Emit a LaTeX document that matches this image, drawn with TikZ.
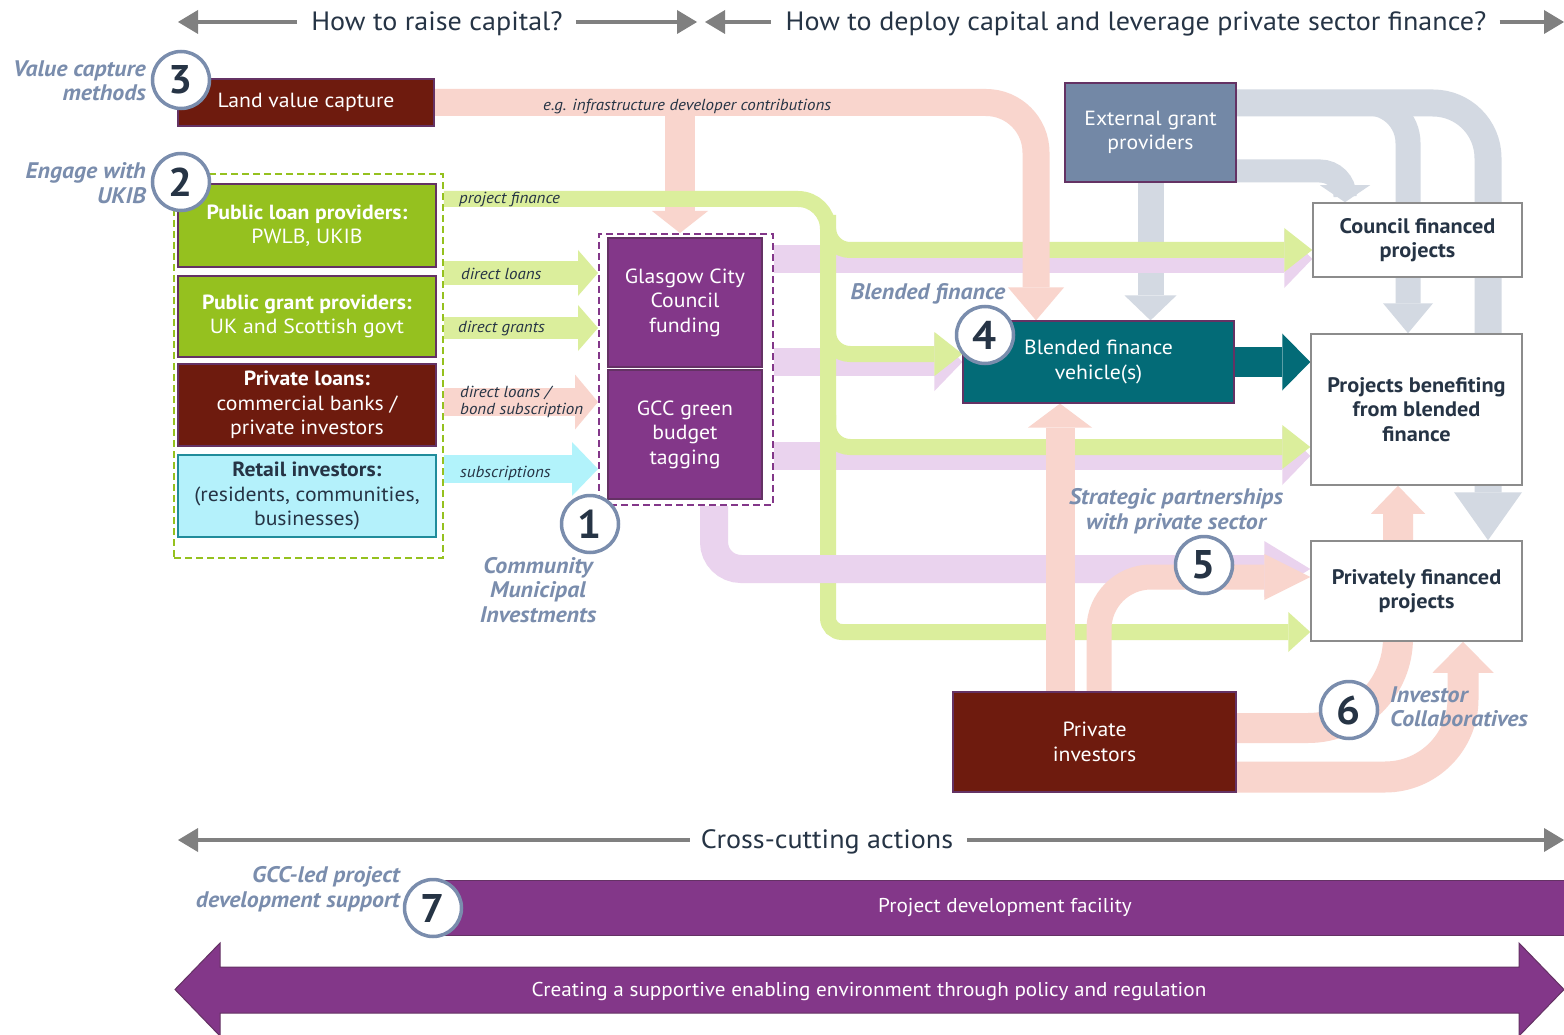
\documentclass[tikz,border=0pt]{standalone}
\usepackage{fontspec}
\setmainfont{PT Sans}[FakeStretch=1.06]
\usetikzlibrary{arrows.meta}
\pgfdeclarelayer{bg}
\pgfdeclarelayer{flows}
\pgfsetlayers{bg,flows,main}
\definecolor{maroonb}{RGB}{110,27,14}
\definecolor{greenb}{RGB}{149,193,31}
\definecolor{cyanb}{RGB}{180,241,251}
\definecolor{cyanedge}{RGB}{32,140,155}
\definecolor{purpleb}{RGB}{131,55,137}
\definecolor{slateb}{RGB}{115,136,166}
\definecolor{tealb}{RGB}{3,107,119}
\definecolor{pinkf}{RGB}{249,213,205}
\definecolor{greenf}{RGB}{219,238,156}
\definecolor{lavf}{RGB}{234,211,238}
\definecolor{grayf}{RGB}{211,217,226}
\definecolor{cyanf}{RGB}{178,243,251}
\definecolor{labblue}{RGB}{122,141,173}
\definecolor{darkt}{RGB}{38,52,69}
\definecolor{hgray}{RGB}{128,128,128}
\definecolor{boxedge}{RGB}{100,50,100}
\definecolor{wedge}{RGB}{140,140,140}
\newcommand{\fz}[2]{\fontsize{#1}{#2}\selectfont}
\tikzset{
  flw/.style n args={4}{draw=#1, line width=#2, -{Triangle[length=#3, width=#4, line width=0pt]}},
  hdr/.style={draw=hgray, line width=4.5pt, -{Triangle[length=20pt, width=24pt, line width=0pt]}},
  mbox/.style={draw=boxedge, line width=1.2pt, text=white, align=center, inner sep=2pt, font=\fz{20.5}{24.5}},
  wbox/.style={draw=wedge, line width=1.5pt, fill=white, text=darkt, align=center, inner sep=2pt, font=\bfseries\fz{21}{24.5}},
  numc/.style={circle, draw=labblue, line width=3.5pt, fill=white, minimum size=57pt, inner sep=0pt, text=darkt, font=\bfseries\fz{40}{40}},
  lab/.style={text=labblue, font=\bfseries\itshape\fz{22.5}{24.5}, inner sep=0pt},
  small/.style={text=darkt, font=\itshape\fz{16}{17}, inner sep=0pt, anchor=west, align=left},
  head/.style={text=darkt, font=\fz{26.5}{30}, inner sep=0pt},
}
\begin{document}
\begin{tikzpicture}[x=1pt,y=-1pt]
\useasboundingbox (0,0) rectangle (1564,1035);
\clip (0,0) rectangle (1564,1035);
\begin{pgfonlayer}{bg}
\fill[white] (0,0) rectangle (1564,1035);
\end{pgfonlayer}

% ---------- header ----------
\node[head] (h1) at (437,24) {How to raise capital?};
\node[head] (h2) at (1136,24) {How to deploy capital and leverage private sector finance?};
\coordinate (hA) at (178,22);
\coordinate (hB) at (697,22);
\coordinate (hC) at (705,22);
\coordinate (hD) at (1564,22);
\draw[hdr] ([xshift=-14pt]h1.west |- hA) -- (hA);
\draw[hdr] ([xshift=13pt]h1.east |- hA) -- (hB);
\draw[hdr] ([xshift=-15pt]h2.west |- hA) -- (hC);
\draw[hdr] ([xshift=13pt]h2.east |- hA) -- (hD);

% ---------- left boxes ----------
\node[mbox, fill=maroonb, minimum width=256pt, minimum height=47pt] (lvc) at (306,102.5) {Land value capture};
\node[draw=greenb, dash pattern=on 7pt off 4pt, line width=1.8pt, minimum width=269pt, minimum height=384pt, inner sep=0pt] (grp2) at (308.5,366) {};
\node[mbox, fill=greenb, minimum width=258pt, minimum height=83pt] (plp) at (307,225.5) {\textbf{Public loan providers:}\\PWLB, UKIB};
\node[mbox, fill=greenb, minimum width=258pt, minimum height=81pt] (pgp) at (307,316.5) {\textbf{Public grant providers:}\\UK and Scottish govt};
\node[mbox, fill=maroonb, minimum width=258pt, minimum height=82pt] (prl) at (307,405) {\textbf{Private loans:}\\commercial banks /\\private investors};
\node[mbox, fill=cyanb, draw=cyanedge, text=darkt, minimum width=258pt, minimum height=82pt] (ri) at (307,496) {\textbf{Retail investors:}\\(residents, communities,\\businesses)};

% ---------- GCC ----------
\node[draw=purpleb, dash pattern=on 7pt off 4pt, line width=2pt, minimum width=174pt, minimum height=271pt, inner sep=0pt] (gccgrp) at (686,369.5) {};
\node[mbox, fill=purpleb, minimum width=154pt, minimum height=129pt] (gcc1) at (685,302.5) {Glasgow City\\Council\\funding};
\node[mbox, fill=purpleb, minimum width=154pt, minimum height=129pt] (gcc2) at (685,434.5) {GCC green\\budget\\tagging};

% ---------- right boxes ----------
\node[mbox, fill=slateb, minimum width=171pt, minimum height=99pt] (egp) at (1150.5,132.5) {External grant\\providers};
\node[mbox, fill=tealb, minimum width=271pt, minimum height=82pt] (bfv) at (1098.5,362) {Blended finance\\vehicle(s)};
\node[wbox, minimum width=209pt, minimum height=74pt] (cfp) at (1417.5,240) {Council financed\\projects};
\node[wbox, minimum width=211pt, minimum height=151pt] (pbf) at (1416.5,409.5) {Projects benefiting\\from blended\\finance};
\node[wbox, minimum width=211pt, minimum height=100pt] (pfp) at (1416.5,591) {Privately financed\\projects};
\node[mbox, fill=maroonb, minimum width=283pt, minimum height=100pt] (pi) at (1094.5,742) {Private\\investors};

% ---------- flows ----------
\begin{pgfonlayer}{flows}
% grey
\draw[flw={grayf}{26pt}{25pt}{52pt}] (egp.south) -- (egp.south |- bfv.north);
\draw[flw={grayf}{27pt}{48pt}{68pt}, rounded corners=55pt] (egp.east |- 0,103) -| (1488,0 |- pfp.north);
\draw[flw={grayf}{25pt}{30pt}{50pt}, rounded corners=40pt] (egp.east |- 0,103) -| (1408,0 |- pbf.north);
\draw[flw={grayf}{23pt}{17pt}{50pt}, rounded corners=25pt] (egp.east |- 0,171) -| (1345,0 |- cfp.north);
% pink branch into GCC
\draw[flw={pinkf}{30pt}{22pt}{56pt}] (680,104) -- (680,0 |- gccgrp.north);
% lavender (upper three)
\draw[flw={lavf}{28pt}{28pt}{58pt}] (gccgrp.east |- 0,259) -- (cfp.west |- 0,259);
\draw[flw={lavf}{28pt}{28pt}{58pt}] (gccgrp.east |- 0,362) -- (bfv.west |- 0,362);
\draw[flw={lavf}{28pt}{28pt}{58pt}] (gccgrp.east |- 0,456) -- (pbf.west |- 0,456);
% green
\draw[greenf, line width=16pt, rounded corners=30pt] (grp2.east |- 0,199) -| (828,420);
\draw[flw={greenf}{16pt}{22pt}{40pt}, rounded corners=14pt] (828,400) |- (pfp.west |- 0,632);
\draw[flw={greenf}{16pt}{28pt}{44pt}, rounded corners=22pt] (828,215) |- (cfp.west |- 0,250);
\draw[flw={greenf}{16pt}{28pt}{44pt}, rounded corners=22pt] (828,320) |- (bfv.west |- 0,354);
\draw[flw={greenf}{16pt}{28pt}{44pt}, rounded corners=22pt] (828,415) |- (pbf.west |- 0,447);
% lavender to privately financed (over green)
\draw[flw={lavf}{28pt}{46pt}{56pt}, rounded corners=27pt] (714,0 |- gccgrp.south) |- (pfp.west |- 0,569);
% short arrows into GCC
\draw[flw={greenf}{23pt}{20pt}{46pt}] (grp2.east |- 0,273) -- (gccgrp.west |- 0,273);
\draw[flw={greenf}{22pt}{20pt}{46pt}] (grp2.east |- 0,328) -- (gccgrp.west |- 0,328);
\draw[flw={pinkf}{28pt}{23pt}{55pt}] (grp2.east |- 0,402) -- (gccgrp.west |- 0,402);
\draw[flw={cyanf}{28pt}{26pt}{54pt}] (grp2.east |- 0,469) -- (gccgrp.west |- 0,469);
% pink main
\draw[flw={pinkf}{27pt}{33pt}{56pt}, rounded corners=50pt] (lvc.east) -| (1036,0 |- bfv.north);
\draw[flw={pinkf}{29pt}{24pt}{64pt}] (1060,0 |- pi.north) -- (1060,0 |- bfv.south);
\draw[flw={pinkf}{25pt}{46pt}{46pt}, rounded corners=52pt] (1099,0 |- pi.north) |- (pfp.west |- 0,577);
\draw[flw={pinkf}{30pt}{28pt}{54pt}, rounded corners=90pt] (pi.east |- 0,728) -| (1398,0 |- pbf.south);
\draw[flw={pinkf}{31pt}{31pt}{61pt}, rounded corners=78pt] (pi.east |- 0,777) -| (1463,0 |- pfp.south);
% teal
\draw[flw={tealb}{30pt}{28pt}{57pt}] (bfv.east) -- (pbf.west |- bfv.east);
\end{pgfonlayer}

% ---------- small labels ----------
\node[small] (t0) at (543,107) {e.g. infrastructure developer contributions};
\node[small] (t1) at (459,200) {project finance};
\node[small] (t2) at (461,274) {direct loans};
\node[small] (t3) at (458,329) {direct grants};
\node[small] (t4) at (460,402) {direct loans /\\bond subscription};
\node[small] (t5) at (460,473) {subscriptions};

% ---------- blue-grey labels ----------
\node[lab, align=right, anchor=east] (l3) at (146,81) {Value capture\\methods};
\node[lab, align=right, anchor=east] (l2) at (146,183) {Engage with\\UKIB};
\node[lab, align=center] (l1) at (538,590) {Community\\Municipal\\Investments};
\node[lab] (l4) at (928,294) {Blended finance};
\node[lab, align=center] (l5) at (1176,511) {Strategic partnerships\\with private sector};
\node[lab, align=left, anchor=west] (l6) at (1390,707) {Investor\\Collaboratives};
\node[lab, align=right, anchor=east] (l7) at (400,889) {GCC-led project\\development support};

% ---------- bottom ----------
\node[head] (cc) at (827,842) {Cross-cutting actions};
\coordinate (cA) at (178,840);
\coordinate (cB) at (1564,840);
\draw[hdr] ([xshift=-11pt]cc.west |- cA) -- (cA);
\draw[hdr] ([xshift=14pt]cc.east |- cA) -- (cB);

\node[fill=purpleb, draw=boxedge, line width=1pt, minimum width=1130pt, minimum height=55pt, text=white, font=\fz{20}{24}] (pdf) at (1005,907.5) {Project development facility};

\fill[purpleb, draw=boxedge, line width=1pt] (175,989.5) -- (220,943) -- (220,967) -- (1519,967) -- (1519,943) -- (1564,989.5) -- (1519,1036) -- (1519,1013) -- (220,1013) -- (220,1036) -- cycle;
\node[text=white, font=\fz{20}{24}] (env) at (869,991) {Creating a supportive enabling environment through policy and regulation};

% ---------- numbered circles ----------
\node[numc] (c1) at (590,524) {1};
\node[numc] (c2) at (181,182) {2};
\node[numc] (c3) at (181,80) {3};
\node[numc] (c4) at (985,335) {4};
\node[numc] (c5) at (1204,565) {5};
\node[numc] (c6) at (1349,710) {6};
\node[numc] (c7) at (433,908) {7};
\end{tikzpicture}
\end{document}
